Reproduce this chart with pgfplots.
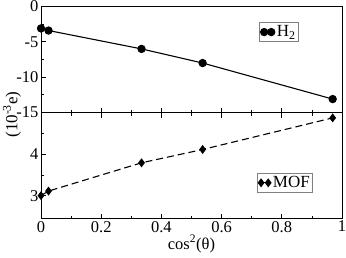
\documentclass[border=0pt]{standalone}
\usepackage{fontspec}
\setmainfont{Liberation Serif}
\usepackage{pgfplots}
\pgfplotsset{compat=1.18}
\begin{document}
\begin{tikzpicture}
\useasboundingbox (-41pt,-145pt) rectangle (305pt,112.5pt);
\pgfplotsset{
  every axis/.style={
    scale only axis, width=301pt, height=106pt,
    xmin=0, xmax=1,
    xtick={0,0.2,0.4,0.6,0.8,1},
    minor x tick num=1,
    ytick pos=left,
    tick align=inside,
    major tick length=5pt, minor tick length=3pt,
    font=\fontsize{16.5}{18}\selectfont,
    /pgf/number format/assume math mode=true,
    axis line style={line width=0.9pt},
    every tick/.style={line width=0.7pt, black},
    legend style={draw=gray, line width=0.7pt, inner sep=1pt, font=\fontsize{17}{19}\selectfont},
    legend cell align=left,
    xticklabel style={yshift=1pt},
    yticklabel style={xshift=1pt},
  }
}
\begin{axis}[
  name=top, at={(0,0)}, anchor=south west,
  ymin=-15, ymax=0, ytick={-15,-10,-5,0},
  minor y tick num=1,
  xtick pos=left, xticklabels={},
  legend style={at={(0.857,0.85)}, anchor=north east},
  legend image code/.code={\draw[#1] plot coordinates {(0cm,0cm) (0.25cm,0cm)};},
]
\addplot[black, line width=1.1pt, mark=*, mark size=3.6pt] coordinates {
  (0,-3.1) (0.025,-3.4) (0.334,-6.0) (0.537,-8.0) (0.969,-13.1)
};
\addlegendentry{H\textsubscript{2}}
\end{axis}
\begin{axis}[
  at={(0,0)}, anchor=north west,
  ymin=2.45, ymax=5, ytick={3,4},
  minor ytick={3.5,4.5},
  xtick pos=both,
  xticklabels={0,0.2,0.4,0.6,0.8,1},
  xlabel={cos\textsuperscript{2}(θ)},
  xlabel style={yshift=4pt},
  legend style={at={(0.904,0.245)}, anchor=south east},
  legend image code/.code={\draw[#1,solid] plot coordinates {(0cm,0cm) (0.25cm,0cm)};},
]
\addplot[black, line width=1.1pt, dash pattern=on 7pt off 4pt, mark=diamond*, mark size=3.6pt, mark options={solid}] coordinates {
  (0,3.0) (0.025,3.11) (0.334,3.79) (0.537,4.11) (0.969,4.87)
};
\addlegendentry{MOF}
\end{axis}
\node[rotate=90, font=\fontsize{17}{19}\selectfont] at (-29pt,-2pt) {(10\textsuperscript{-3}e)};
\end{tikzpicture}
\end{document}
